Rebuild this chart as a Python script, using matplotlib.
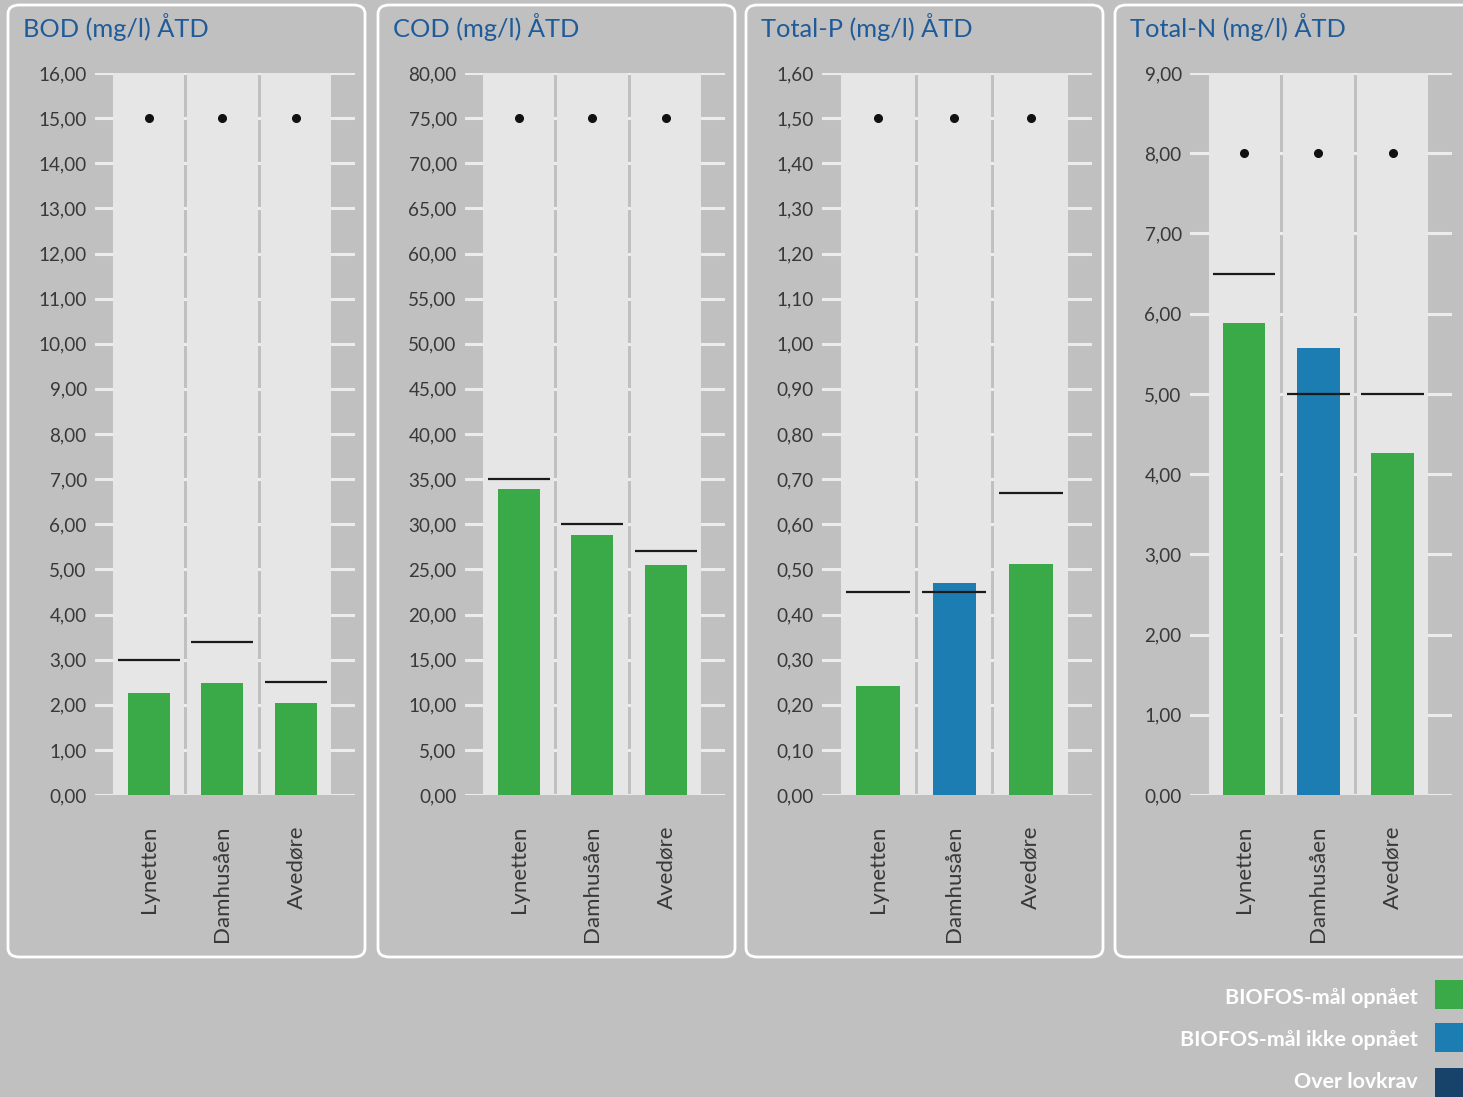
import matplotlib
matplotlib.use("Agg")
import matplotlib.pyplot as plt
from matplotlib.patches import FancyBboxPatch, Rectangle
from matplotlib.ticker import FuncFormatter, MultipleLocator

plt.rcParams['font.family'] = ['Lato', 'DejaVu Sans']

categories = ["Lynetten", "Damhusåen", "Avedøre"]
titles = ["BOD (mg/l) ÅTD", "COD (mg/l) ÅTD", "Total-P (mg/l) ÅTD", "Total-N (mg/l) ÅTD"]

bod_values = [2.26, 2.48, 2.04]
cod_values = [33.9, 28.8, 25.5]
totp_values = [0.242, 0.469, 0.513]
totn_values = [5.88, 5.57, 4.26]

bod_targets = [3.0, 3.4, 2.5]
cod_targets = [35.0, 30.0, 27.0]
totp_targets = [0.45, 0.45, 0.67]
totn_targets = [6.5, 5.0, 5.0]

bod_limits = [15.0, 15.0, 15.0]
cod_limits = [75.0, 75.0, 75.0]
totp_limits = [1.5, 1.5, 1.5]
totn_limits = [8.0, 8.0, 8.0]

# status: 0 = BIOFOS-mål opnået, 1 = ikke opnået, 2 = over lovkrav
bod_status = [0, 0, 0]
cod_status = [0, 0, 0]
totp_status = [0, 1, 0]
totn_status = [0, 1, 0]

y_max = [16, 80, 1.6, 9]
y_step = [1, 5, 0.1, 1]

legend_labels = ["BIOFOS-mål opnået", "BIOFOS-mål ikke opnået", "Over lovkrav"]
status_colors = ["#3aaa48", "#1c7db2", "#17436b"]

BG = "#c0c0c0"
BAND = "#e6e6e6"
GRID = "#ececec"
TITLE_C = "#1f5b99"
TEXT_C = "#383838"

W, H = 1463, 1097
fig = plt.figure(figsize=(W / 100, H / 100), dpi=100, facecolor=BG)

def fx(px):
    return px / W

def fy(py):
    return 1 - py / H

panel_boxes = [(8, 365), (378, 735), (746, 1103), (1115, 1475)]
axes_px = [(95, 355), (465, 725), (822, 1092), (1190, 1452)]
y_top_px, y_bot_px = 73, 795

values = [bod_values, cod_values, totp_values, totn_values]
targets = [bod_targets, cod_targets, totp_targets, totn_targets]
limits = [bod_limits, cod_limits, totp_limits, totn_limits]
statuses = [bod_status, cod_status, totp_status, totn_status]

for i in range(4):
    x0, x1 = panel_boxes[i]
    box = FancyBboxPatch((fx(x0), fy(957)), fx(x1 - x0), (957 - 5) / H,
                         boxstyle="round,pad=0,rounding_size=0.008",
                         transform=fig.transFigure, facecolor=BG,
                         edgecolor="white", linewidth=2, zorder=-10)
    fig.patches.append(box)
    fig.text(fx(x0 + 15), fy(27), titles[i], color=TITLE_C, fontsize=18.3,
             ha="left", va="center")

    a0, a1 = axes_px[i]
    ax = fig.add_axes([fx(a0), fy(y_bot_px), fx(a1 - a0), (y_bot_px - y_top_px) / H])
    ax.set_zorder(5)
    ax.set_facecolor("none")
    ax.set_xlim(-0.73, 2.80)
    ax.set_ylim(0, y_max[i])
    ax.yaxis.set_major_locator(MultipleLocator(y_step[i]))
    ax.yaxis.set_major_formatter(FuncFormatter(lambda v, p: f"{v:.2f}".replace(".", ",")))
    ax.grid(axis="y", color=GRID, linewidth=2.2, zorder=0)
    ax.set_axisbelow(True)
    for s in ax.spines.values():
        s.set_visible(False)
    ax.tick_params(axis="y", length=0, pad=6, labelsize=13.6, labelcolor=TEXT_C)
    ax.tick_params(axis="x", length=0, pad=22, labelsize=16, labelcolor=TEXT_C)

    xs = list(range(len(categories)))
    for x in xs:
        ax.add_patch(Rectangle((x - 0.48, 0), 0.96, y_max[i], facecolor=BAND,
                               edgecolor="none", zorder=1))
    ax.bar(xs, values[i], width=0.57, color=[status_colors[s] for s in statuses[i]],
           zorder=2)
    ax.hlines(targets[i], [x - 0.42 for x in xs], [x + 0.42 for x in xs],
              color="#1a1a1a", linewidth=1.6, zorder=3)
    ax.plot(xs, limits[i], "o", color="#111111", markersize=5.5, zorder=4,
            linestyle="none")
    ax.set_xticks(xs)
    ax.set_xticklabels(categories, rotation=90, va="top", ha="center")

# legend
leg_text_y = [998, 1040, 1082]
leg_box_y = [994.5, 1037, 1082]
for k, lab in enumerate(legend_labels):
    fig.text(fx(1418), fy(leg_text_y[k]), lab, color="white", fontsize=15.4,
             fontweight="bold", ha="right", va="center")
    fig.patches.append(Rectangle((fx(1435), fy(leg_box_y[k] + 14.5)), fx(40), 29 / H,
                                 transform=fig.transFigure,
                                 facecolor=status_colors[k], edgecolor="none"))

fig.savefig("out.png", dpi=100, facecolor=BG)
